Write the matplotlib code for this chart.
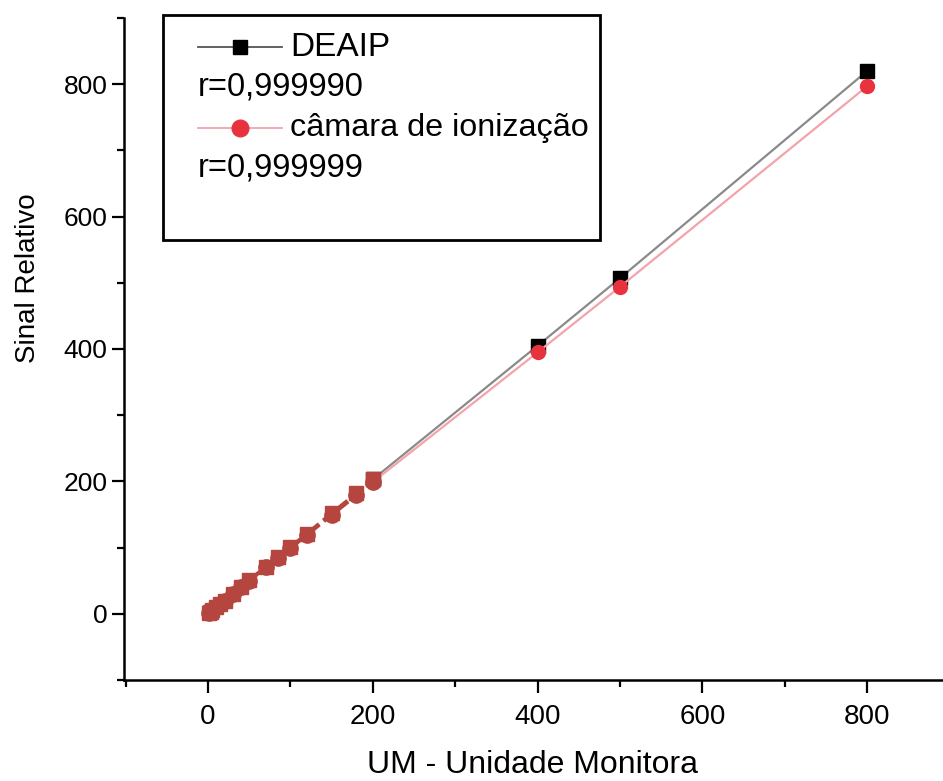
import numpy as np
import matplotlib.pyplot as plt
from matplotlib.lines import Line2D
from matplotlib.patches import Rectangle

plt.rcParams['font.family'] = ['Liberation Sans', 'DejaVu Sans']

# dose in monitor units and relative signal of both detectors
UM = np.array([1, 2, 3, 5, 10, 15, 20, 30, 40, 50, 70, 85, 100, 120, 150, 180, 200, 400, 500, 800])
DEAIP = np.array([1, 2, 3, 5, 10, 15, 20, 30, 41, 51, 71, 86, 101, 121, 152, 182, 203, 405, 507, 820])
CAMARA = np.array([1, 2, 3, 5, 10, 15, 20, 30, 40, 50, 70, 85, 99, 119, 149, 179, 199, 395, 494, 797])
R_DEAIP = 'r=0,999990'
R_CAMARA = 'r=0,999999'

fig = plt.figure(figsize=(9.43, 7.81), dpi=100)
ax = fig.add_axes([124 / 943, 101 / 781, 819 / 943, 662 / 781])

high = UM >= 200
low = UM <= 200

# upper range: thin lines with separate markers
ax.plot(UM[high], DEAIP[high], '-', color='#8a8a8a', lw=1.6,
        marker='s', ms=10, mfc='k', mec='k')
ax.plot(UM[high], CAMARA[high], '-', color='#f3a3ab', lw=1.6,
        marker='o', ms=10, mfc='#e8333f', mec='#e8333f')

# lower range: both series overlap
ax.plot(UM[low], DEAIP[low], '--', color='#b5453f', lw=2.5,
        marker='s', ms=10, mfc='#b5453f', mec='#b5453f')
ax.plot(UM[low], CAMARA[low], '--', color='#b5453f', lw=2.5,
        marker='o', ms=11, mfc='#b5453f', mec='#b5453f')

ax.set_xlim(-102, 892)
ax.set_ylim(-97, 900)
ax.set_xticks([0, 200, 400, 600, 800])
ax.set_xticks([-100, 100, 300, 500, 700], minor=True)
ax.set_yticks([0, 200, 400, 600, 800])
ax.set_yticks([-100, 100, 300, 500, 700, 900], minor=True)

for s in ['top', 'right']:
    ax.spines[s].set_visible(False)
for s in ['left', 'bottom']:
    ax.spines[s].set_linewidth(1.8)

ax.tick_params(axis='both', which='major', direction='out', length=9, width=1.6)
ax.tick_params(axis='both', which='minor', direction='out', length=5, width=1.6)
ax.tick_params(axis='x', which='major', labelsize=20, pad=8)
ax.tick_params(axis='y', which='major', labelsize=19, pad=3)

ax.set_xlabel('UM - Unidade Monitora', fontsize=23)
ax.xaxis.set_label_coords(0.499, -0.106)
ax.set_ylabel('Sinal Relativo', fontsize=20)
ax.yaxis.set_label_coords(-0.101, 0.607)

# legend box
def ac(px, py):
    return ((px - 124) / 819, (680 - py) / 662)

x0, y0 = ac(163, 240)
x1, y1 = ac(600, 15)
ax.add_patch(Rectangle((x0, y0), x1 - x0, y1 - y0, transform=ax.transAxes,
                       fill=True, fc='white', ec='black', lw=2, clip_on=False, zorder=5))

hx0, _ = ac(198, 0)
hx1, _ = ac(282, 0)
hxm = (hx0 + hx1) / 2
tx, _ = ac(290, 0)
rows = [ac(0, 47)[1], ac(0, 87)[1], ac(0, 128)[1], ac(0, 168)[1]]

ax.add_line(Line2D([hx0, hx1], [rows[0], rows[0]], transform=ax.transAxes,
                   color='#555555', lw=1.3, zorder=6, clip_on=False))
ax.add_line(Line2D([hxm], [rows[0]], transform=ax.transAxes, marker='s', ms=10,
                   mfc='k', mec='k', zorder=7, clip_on=False))
ax.add_line(Line2D([hx0, hx1], [rows[2], rows[2]], transform=ax.transAxes,
                   color='#f3a3ab', lw=1.3, zorder=6, clip_on=False))
ax.add_line(Line2D([hxm], [rows[2]], transform=ax.transAxes, marker='o', ms=12,
                   mfc='#e8333f', mec='#e8333f', zorder=7, clip_on=False))

ax.text(tx, rows[0], 'DEAIP', transform=ax.transAxes, fontsize=24, va='center', zorder=7)
ax.text(hx0, rows[1], R_DEAIP, transform=ax.transAxes, fontsize=23.5, va='center', zorder=7)
ax.text(tx, rows[2], 'câmara de ionização', transform=ax.transAxes, fontsize=23.3, va='center', zorder=7)
ax.text(hx0, rows[3], R_CAMARA, transform=ax.transAxes, fontsize=23.5, va='center', zorder=7)

fig.savefig('out.png', dpi=100)
